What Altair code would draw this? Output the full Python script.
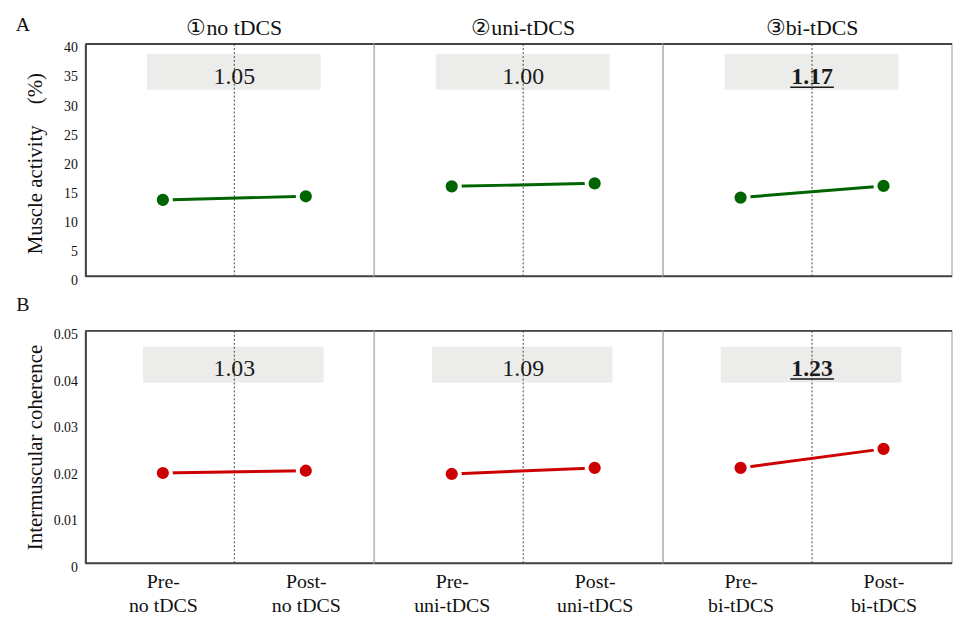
import altair as alt
import pandas as pd

SERIF = "Liberation Serif"
GREEN = "#006400"
RED = "#cc0000"

# ---- data ----
conditions = ["①no tDCS", "②uni-tDCS", "③bi-tDCS"]
cond_keys = ["no tDCS", "uni-tDCS", "bi-tDCS"]
phases = ["Pre-", "Post-"]
muscle_pre = [13.15, 15.49, 13.55]
muscle_post = [13.77, 16.0, 15.56]
coh_pre = [0.0194, 0.0192, 0.0205]
coh_post = [0.0199, 0.0205, 0.0246]
muscle_ratio = ["1.05", "1.00", "1.17"]
coh_ratio = ["1.03", "1.09", "1.23"]
highlight = [False, False, True]
muscle_ticks = [0, 5, 10, 15, 20, 25, 30, 35, 40]
coh_ticks = [0, 0.01, 0.02, 0.03, 0.04, 0.05]
row_letters = ["A", "B"]
y_titles = ["Muscle activity\u3000(%)", "Intermuscular coherence"]

W, H = 291, 234
MID = 150


def panel(row, i):
    if row == 0:
        pre, post, ratios, color = muscle_pre, muscle_post, muscle_ratio, GREEN
        ydom, yvals = [0, 40], muscle_ticks
        box_y, box_y2, txt_y = 10, 46, 40
        bx, bx2 = 62, 237
        lexpr = "format(datum.value, 'd')"
        title_y = 120
    else:
        pre, post, ratios, color = coh_pre, coh_post, coh_ratio, RED
        ydom, yvals = [0, 0.05], coh_ticks
        box_y, box_y2, txt_y = 16, 52, 45
        bx, bx2 = 58, 240
        lexpr = "datum.value == 0 ? '0' : format(datum.value, '.2f')"
        title_y = 117

    df = pd.DataFrame({
        "label": [f"{phases[0]}|{cond_keys[i]}", f"{phases[1]}|{cond_keys[i]}"],
        "value": [pre[i], post[i]],
    })

    if i == 0:
        yaxis = alt.Axis(values=yvals, labelExpr=lexpr, title=y_titles[row],
                         titleFont=SERIF, titleFontSize=21, titleFontWeight="normal",
                         titleColor="#111", titleX=-50, titleY=title_y, titleAngle=-90,
                         titleAlign="center", titleBaseline="middle",
                         labelFont=SERIF, labelFontSize=14, labelColor="#111",
                         labelPadding=8, labelOffset=4, ticks=False, grid=False,
                         domain=True, domainColor="#444", domainWidth=2)
    else:
        yaxis = None

    if row == 1:
        xaxis = alt.Axis(title=None, labelExpr="split(datum.label, '|')",
                         labelFont=SERIF, labelFontSize=20, labelColor="#111",
                         labelAngle=0, labelPadding=9, labelLineHeight=24,
                         ticks=False, domain=False, grid=False)
    else:
        xaxis = None

    x = alt.X("label:N", sort=None,
              scale=alt.Scale(type="point", range=[78, 222], padding=0), axis=xaxis)
    y = alt.Y("value:Q", scale=alt.Scale(domain=ydom, nice=False, zero=True), axis=yaxis)

    base = alt.Chart(df).encode(x=x, y=y)
    one = pd.DataFrame({"t": [ratios[i]]})

    box = alt.Chart(one).mark_rect(color="#ececea").encode(
        x=alt.value(bx), x2=alt.value(bx2), y=alt.value(box_y), y2=alt.value(box_y2))
    dotted = alt.Chart(one).mark_rule(color="#444", strokeDash=[2, 2], strokeWidth=1).encode(
        x=alt.value(MID), y=alt.value(0), y2=alt.value(H))
    txt = alt.Chart(one).mark_text(
        font=SERIF, fontSize=24, color="#1a1a1a", baseline="alphabetic", align="center",
        fontWeight="bold" if highlight[i] else "normal",
    ).encode(x=alt.value(MID), y=alt.value(txt_y), text="t:N")
    line = base.mark_line(color=color, strokeWidth=3)
    pts = base.mark_point(filled=True, shape="circle", size=265, opacity=1,
                          fill=color, stroke="white", strokeWidth=4)
    top = alt.Chart(one).mark_rule(color="#444", strokeWidth=2).encode(
        x=alt.value(0), x2=alt.value(W), y=alt.value(0))
    bottom = alt.Chart(one).mark_rule(color="#444", strokeWidth=2).encode(
        x=alt.value(0), x2=alt.value(W), y=alt.value(H))

    layers = [box, dotted, line, pts, txt, top, bottom]
    if highlight[i]:
        ul = alt.Chart(one).mark_rule(color="#1a1a1a", strokeWidth=1.5).encode(
            x=alt.value(MID - 22), x2=alt.value(MID + 22), y=alt.value(txt_y + 3.5))
        layers.append(ul)
    if row == 0:
        ct = alt.Chart(one).mark_text(font=SERIF, fontSize=22, color="#111",
                                      baseline="middle", align="center").encode(
            x=alt.value(MID), y=alt.value(-16), text=alt.value(conditions[i]))
        layers.append(ct)
    if i == 0:
        letter = alt.Chart(one).mark_text(font=SERIF, fontSize=20, color="#111",
                                          baseline="middle", align="center").encode(
            x=alt.value(-63), y=alt.value(-19 if row == 0 else -26),
            text=alt.value(row_letters[row]))
        layers.append(letter)

    return alt.layer(*layers).properties(width=W, height=H)


rows = [alt.hconcat(*[panel(r, i) for i in range(3)], spacing=0, bounds="flush")
        for r in range(2)]
chart = alt.vconcat(*rows, spacing=6).configure_view(
    stroke="#bbbbbb", strokeWidth=1.5
).properties(padding={"left": 7, "top": 4, "right": 0, "bottom": 0},
             background="white")

chart.save("out.html", embed_options={"renderer": "svg", "actions": False})
